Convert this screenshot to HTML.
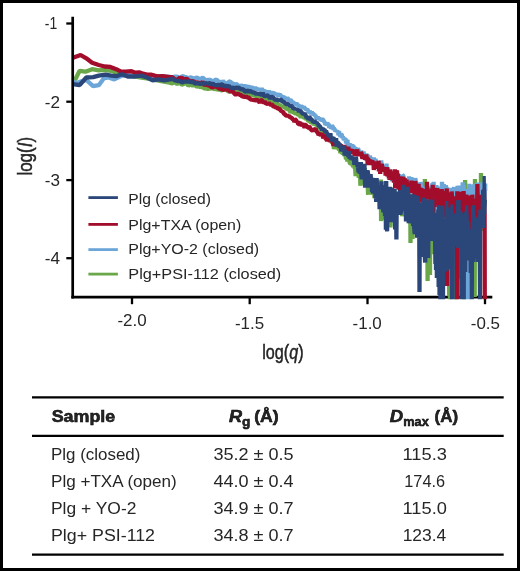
<!DOCTYPE html>
<html lang="en"><head><meta charset="utf-8"><title>SAXS log(I) vs log(q)</title>
<style>html,body{margin:0;padding:0;background:#fff}body{width:520px;height:571px;overflow:hidden}svg{display:block}text{font-family:'Liberation Sans', Arial, Helvetica, sans-serif;fill:#262626}</style>
</head><body>
<svg width="520" height="571" viewBox="0 0 520 571">
<rect x="0" y="0" width="520" height="571" fill="#fff"/>
<g stroke="#000" fill="none">
<path d="M71.35 297.2 H492.3" stroke-width="2.7"/>
<path d="M132.0 297 V304.2" stroke-width="2.3"/>
<path d="M249.7 297 V304.2" stroke-width="2.3"/>
<path d="M367.5 297 V304.2" stroke-width="2.3"/>
<path d="M485.0 297 V304.2" stroke-width="2.3"/>
</g>
<defs><clipPath id="plot"><rect x="60" y="0" width="440" height="299.3"/></clipPath></defs>
<g clip-path="url(#plot)" fill="none" stroke-width="4.3" stroke-linejoin="bevel" stroke-linecap="butt">
<path d="M73.0 81.3 L75.8 78.5 L79.6 70.8 L85.4 71.7 L92.1 69.2 L98.8 70.4 L103.7 69.8 L111.3 70.8 L116.2 72.7 L121.0 73.7 L130.0 75.5 L140.0 77.3 L150.0 79.0 L160.0 81.0 L169.6 82.7 L172.2 83.4 L174.6 82.0 L177.1 84.1 L179.4 82.2 L181.8 84.7 L184.0 83.8 L186.2 82.8 L188.4 85.8 L190.5 84.4 L192.6 85.7 L194.7 84.6 L196.7 86.9 L198.6 85.7 L200.5 87.6 L202.4 85.9 L204.3 88.7 L206.1 88.0 L207.9 89.2 L209.6 88.0 L211.4 88.6 L213.1 87.4 L214.7 89.8 L216.4 88.2 L218.0 90.1 L219.6 89.0 L221.1 90.6 L222.7 90.0 L224.2 89.1 L225.7 89.7 L227.2 90.5 L228.6 91.7 L230.1 91.5 L231.5 91.2 L232.9 91.4 L234.2 89.1 L235.6 90.9 L236.9 89.9 L238.3 93.2 L239.6 93.5 L240.8 91.8 L242.1 93.4 L243.4 92.0 L244.6 92.7 L245.8 93.6 L247.1 94.3 L248.2 94.8 L249.4 94.2 L250.6 95.1 L251.8 95.7 L252.9 94.0 L254.0 95.5 L255.1 95.4 L256.3 96.5 L257.3 95.9 L258.4 94.8 L259.5 98.0 L260.6 96.8 L261.6 98.5 L262.6 97.8 L263.7 97.9 L264.7 98.9 L265.7 99.0 L266.7 99.6 L267.7 100.0 L268.7 99.9 L269.6 99.7 L270.6 100.9 L271.5 101.5 L272.5 101.3 L273.4 103.4 L274.3 104.5 L275.3 102.8 L276.2 101.3 L277.1 103.3 L278.0 104.2 L278.8 105.5 L279.7 104.7 L280.6 105.7 L281.4 105.8 L282.3 107.2 L283.2 106.7 L284.0 106.3 L284.8 105.5 L285.7 107.8 L286.5 109.1 L287.3 109.0 L288.1 109.2 L288.9 110.2 L289.7 109.0 L290.5 113.2 L291.3 110.3 L292.0 112.7 L292.8 112.1 L293.6 111.9 L294.3 112.9 L295.1 113.3 L295.8 113.8 L296.6 112.7 L297.3 114.2 L298.0 114.6 L298.8 114.3 L299.5 115.5 L300.2 116.2 L300.9 117.4 L301.6 116.2 L302.3 116.7 L303.0 116.6 L303.7 117.9 L304.4 117.6 L305.1 117.6 L305.8 116.4 L306.4 120.1 L307.1 118.6 L307.8 120.1 L308.4 121.3 L309.1 120.9 L309.7 121.6 L310.4 121.3 L311.0 123.5 L311.7 122.6 L312.3 123.0 L312.9 122.7 L313.6 125.1 L314.2 123.5 L314.8 123.8 L315.4 124.5 L316.0 124.0 L316.7 125.7 L317.3 127.2 L317.9 126.7 L318.5 128.8 L319.1 127.5 L319.7 127.7 L320.2 129.5 L320.8 129.9 L321.4 131.3 L322.0 132.0 L322.6 131.0 L323.1 130.9 L323.7 132.4 L324.3 134.5 L324.8 131.5 L325.4 134.5 L325.9 134.6 L326.5 136.4 L327.0 134.8 L327.6 135.8 L328.1 136.7 L328.7 137.4 L329.2 137.6 L329.8 136.5 L330.3 139.7 L330.8 140.0 L331.3 137.2 L331.9 143.2 L332.4 142.8 L332.9 139.7 L333.4 142.1 L333.9 149.2 L334.5 145.4 L335.0 145.1 L335.5 144.2 L336.0 146.7 L336.5 144.7 L337.0 145.5 L337.5 149.1 L338.0 147.1 L338.5 148.3 L338.9 149.9 L339.4 149.7 L339.9 147.9 L340.4 153.2 L340.9 150.3 L341.4 152.4 L341.8 152.7 L342.3 152.1 L342.8 150.9 L343.2 154.9 L343.7 153.4 L344.2 153.5 L344.6 156.1 L345.1 152.9 L345.6 156.3 L346.0 159.2 L346.5 158.5 L346.9 156.9 L347.4 161.4 L347.8 156.7 L348.3 161.1 L348.7 160.4 L349.2 159.9 L349.6 162.4 L350.0 163.3 L350.5 163.8 L350.9 163.3 L351.3 163.3 L351.8 164.8 L352.2 160.1 L352.6 164.5 L353.1 167.2 L353.5 160.9 L353.9 164.5 L354.3 166.1 L354.7 168.3 L355.2 168.4 L355.6 176.2 L356.0 170.0 L356.4 169.9 L356.8 167.9 L357.2 174.7 L357.6 165.7 L358.0 175.6 L358.4 171.5 L358.8 177.9 L359.2 169.1 L359.6 174.5 L360.0 169.9 L360.4 185.8 L360.8 175.9 L361.2 176.8 L361.6 171.0 L362.0 171.7 L362.4 176.8 L362.8 184.7 L363.2 172.3 L363.6 181.3 L363.9 176.2 L364.3 174.4 L364.7 168.0 L365.1 182.5 L365.5 186.1 L365.8 181.0 L366.2 183.6 L366.6 183.5 L366.9 175.9 L367.3 183.2 L367.7 185.6 L368.1 194.8 L368.4 181.8 L368.8 187.1 L369.2 183.5 L369.5 194.7 L369.9 184.0 L370.2 187.6 L370.6 179.4 L371.0 188.3 L371.3 183.2 L371.7 187.6 L372.0 180.9 L372.4 186.9 L372.7 193.2 L373.1 192.2 L373.4 189.1 L373.8 194.9 L374.1 190.9 L374.5 198.2 L374.8 196.6 L375.1 193.4 L375.5 189.6 L375.8 180.4 L376.2 191.0 L376.5 196.6 L376.8 193.1 L377.2 182.7 L377.5 189.4 L377.8 185.5 L378.2 191.3 L378.5 195.9 L378.8 180.7 L379.2 193.9 L379.5 181.7 L379.8 195.9 L380.2 205.9 L380.5 186.8 L380.8 179.5 L381.1 221.1 L381.5 187.2 L381.8 198.8 L382.1 192.1 L382.4 219.5 L382.7 216.6 L383.1 191.0 L383.4 195.2 L383.7 206.7 L384.0 200.1 L384.3 203.8 L384.6 187.7 L384.9 201.1 L385.2 205.9 L385.6 199.4 L385.9 202.3 L386.2 188.3 L386.5 189.2 L386.8 201.7 L387.1 192.1 L387.4 220.7 L387.7 204.9 L388.0 196.7 L388.3 215.9 L388.6 217.8 L388.9 195.0 L389.2 201.0 L389.5 203.7 L389.8 208.1 L390.1 203.0 L390.4 227.5 L390.7 207.1 L391.0 205.8 L391.3 198.7 L391.6 196.4 L391.9 222.0 L392.2 208.7 L392.5 198.6 L392.8 211.6 L393.1 208.9 L393.4 195.1 L393.7 197.8 L394.0 203.4 L394.3 206.3 L394.6 212.3 L394.9 200.5 L395.2 208.0 L395.5 206.6 L395.8 206.3 L396.1 193.3 L396.4 212.9 L396.7 191.3 L397.0 210.2 L397.3 204.4 L397.6 205.4 L397.9 199.8 L398.2 200.9 L398.5 197.0 L398.8 208.0 L399.1 196.9 L399.4 203.7 L399.7 212.2 L400.0 201.0 L400.3 200.4 L400.6 196.2 L400.9 207.3 L401.2 211.8 L401.5 198.9 L401.8 200.7 L402.1 216.3 L402.4 210.1 L402.7 201.3 L403.0 210.5 L403.3 204.7 L403.6 213.4 L403.9 209.0 L404.2 194.2 L404.5 210.6 L404.8 204.7 L405.1 200.9 L405.4 210.0 L405.7 212.8 L406.0 197.3 L406.3 208.3 L406.6 211.3 L406.9 205.0 L407.2 209.8 L407.5 188.8 L407.8 199.0 L408.1 214.4 L408.4 210.7 L408.7 195.9 L409.0 212.5 L409.3 221.7 L409.6 212.4 L409.9 195.8 L410.2 192.4 L410.5 243.0 L410.8 208.5 L411.1 198.2 L411.4 211.9 L411.7 212.4 L412.0 222.0 L412.3 209.8 L412.6 238.9 L412.9 212.6 L413.2 197.4 L413.5 215.6 L413.8 191.9 L414.1 209.9 L414.4 211.7 L414.7 221.3 L415.0 202.3 L415.3 189.3 L415.6 224.3 L415.9 226.3 L416.2 212.6 L416.5 201.1 L416.8 205.5 L417.1 210.3 L417.4 215.6 L417.7 198.4 L418.0 204.1 L418.3 221.7 L418.6 200.4 L418.9 209.5 L419.2 206.0 L419.5 223.4 L419.8 205.3 L420.1 201.9 L420.4 203.1 L420.7 206.5 L421.0 207.3 L421.3 204.0 L421.6 200.8 L421.9 202.9 L422.2 210.1 L422.5 211.0 L422.8 234.8 L423.1 206.7 L423.4 214.9 L423.7 229.9 L424.0 219.5 L424.3 203.0 L424.6 212.5 L424.9 179.0 L425.2 218.6 L425.5 207.9 L425.8 211.2 L426.1 206.3 L426.4 203.5 L426.7 196.6 L427.0 238.1 L427.3 233.7 L427.6 281.0 L427.9 209.6 L428.2 210.3 L428.5 203.4 L428.8 200.8 L429.1 205.9 L429.4 214.1 L429.7 212.0 L430.0 274.9 L430.3 213.5 L430.6 216.1 L430.9 225.0 L431.2 250.5 L431.5 209.5 L431.8 224.3 L432.1 243.2 L432.4 209.4 L432.7 236.9 L433.0 214.9 L433.3 212.1 L433.6 254.3 L433.9 204.3 L434.2 210.4 L434.5 238.4 L434.8 213.5 L435.1 212.7 L435.4 232.9 L435.7 227.1 L436.0 210.8 L436.3 215.3 L436.6 202.1 L436.9 217.6 L437.2 248.0 L437.5 224.3 L437.8 210.9 L438.1 209.7 L438.4 225.3 L438.7 207.3 L439.0 276.7 L439.3 234.2 L439.6 222.0 L439.9 205.8 L440.2 223.9 L440.5 232.2 L440.8 237.5 L441.1 210.1 L441.4 228.5 L441.7 213.2 L442.0 233.0 L442.3 209.5 L442.6 217.1 L442.9 222.3 L443.2 210.1 L443.5 226.9 L443.8 213.2 L444.1 216.4 L444.4 226.3 L444.7 237.2 L445.0 211.1 L445.3 204.2 L445.6 232.6 L445.9 218.7 L446.2 199.4 L446.5 217.7 L446.8 209.6 L447.1 234.1 L447.4 226.7 L447.7 257.0 L448.0 200.7 L448.3 199.0 L448.6 256.1 L448.9 220.8 L449.2 296.3 L449.5 243.9 L449.8 229.0 L450.1 310.0 L450.4 221.1 L450.7 215.9 L451.0 215.4 L451.3 223.9 L451.6 250.9 L451.9 233.0 L452.2 247.4 L452.5 222.7 L452.8 230.6 L453.1 226.2 L453.4 215.2 L453.7 225.6 L454.0 230.3 L454.3 213.1 L454.6 224.8 L454.9 234.5 L455.2 229.0 L455.5 220.3 L455.8 222.9 L456.1 320.0 L456.4 223.1 L456.7 221.0 L457.0 250.0 L457.3 202.2 L457.6 201.3 L457.9 237.4 L458.2 232.7 L458.5 227.0 L458.8 201.0 L459.1 237.8 L459.4 216.9 L459.7 278.8 L460.0 207.2 L460.3 216.9 L460.6 216.6 L460.9 229.7 L461.2 210.2 L461.5 227.2 L461.8 220.1 L462.1 261.8 L462.4 219.2 L462.7 230.5 L463.0 233.1 L463.3 213.8 L463.6 230.2 L463.9 229.7 L464.2 320.0 L464.5 220.6 L464.8 217.4 L465.1 180.0 L465.4 216.7 L465.7 213.4 L466.0 228.5 L466.3 210.1 L466.6 215.6 L466.9 211.1 L467.2 232.7 L467.5 229.1 L467.8 212.9 L468.1 210.2 L468.4 209.2 L468.7 217.7 L469.0 235.2 L469.3 244.1 L469.6 201.4 L469.9 222.4 L470.2 239.0 L470.5 202.9 L470.8 247.4 L471.1 218.1 L471.4 240.1 L471.7 227.6 L472.0 213.6 L472.3 207.5 L472.6 241.5 L472.9 197.4 L473.2 275.5 L473.5 237.2 L473.8 217.7 L474.1 219.8 L474.4 219.3 L474.7 297.0 L475.0 179.0 L475.3 231.3 L475.6 205.7 L475.9 217.7 L476.2 227.3 L476.5 226.3 L476.8 224.8 L477.1 225.3 L477.4 224.2 L477.7 220.5 L478.0 231.8 L478.3 198.0 L478.6 210.3 L478.9 216.1 L479.2 210.0 L479.5 211.6 L479.8 209.2 L480.1 206.7 L480.4 228.9 L480.7 206.1 L481.0 173.0 L481.3 225.9 L481.6 230.9 L481.9 209.4 L482.2 201.8 L482.5 201.0 L482.8 199.5 L483.1 226.4 L483.4 198.3 L483.7 201.8 L484.0 183.5 L484.3 206.0 L484.6 186.7 L484.9 184.0 L485.2 190.8" stroke="#69a749"/>
<path d="M73.0 81.3 L75.8 83.3 L81.5 81.3 L86.3 80.0 L93.1 86.2 L98.8 85.2 L103.7 78.5 L108.5 77.5 L114.2 79.4 L120.0 76.5 L125.8 74.6 L131.5 75.6 L140.0 75.2 L150.0 76.0 L160.0 76.2 L170.0 77.0 L172.5 77.3 L175.0 76.7 L177.4 76.6 L179.8 78.7 L182.1 76.1 L184.4 76.8 L186.6 77.4 L188.7 78.3 L190.9 77.3 L192.9 78.6 L195.0 78.1 L197.0 77.6 L198.9 78.6 L200.8 78.8 L202.7 77.7 L204.6 79.2 L206.4 80.5 L208.2 79.8 L209.9 79.8 L211.6 80.6 L213.3 81.9 L215.0 80.1 L216.6 79.5 L218.2 81.7 L219.8 81.7 L221.4 83.2 L222.9 80.8 L224.4 83.0 L225.9 83.2 L227.4 83.7 L228.8 81.8 L230.3 81.4 L231.7 83.5 L233.1 83.3 L234.5 85.3 L235.8 84.1 L237.1 84.4 L238.5 85.9 L239.8 86.7 L241.0 85.0 L242.3 86.5 L243.6 86.1 L244.8 86.1 L246.0 86.5 L247.2 86.6 L248.4 86.9 L249.6 86.8 L250.8 88.1 L251.9 87.2 L253.1 88.1 L254.2 89.1 L255.3 87.6 L256.4 89.0 L257.5 88.9 L258.6 90.1 L259.7 89.0 L260.7 90.2 L261.8 88.7 L262.8 90.4 L263.8 90.9 L264.8 91.1 L265.9 91.6 L266.8 92.1 L267.8 93.2 L268.8 90.6 L269.8 93.7 L270.7 91.8 L271.7 93.8 L272.6 93.2 L273.6 93.1 L274.5 92.7 L275.4 94.9 L276.3 93.6 L277.2 95.2 L278.1 95.3 L279.0 94.8 L279.9 94.2 L280.7 96.0 L281.6 96.3 L282.4 96.7 L283.3 97.1 L284.1 97.4 L285.0 97.8 L285.8 98.5 L286.6 99.3 L287.4 97.9 L288.2 98.9 L289.0 100.4 L289.8 100.8 L290.6 100.3 L291.4 100.6 L292.2 102.4 L292.9 101.6 L293.7 103.7 L294.5 103.5 L295.2 103.6 L296.0 104.2 L296.7 103.9 L297.4 104.2 L298.2 105.7 L298.9 105.7 L299.6 105.5 L300.3 107.2 L301.0 107.0 L301.7 106.6 L302.4 106.9 L303.1 108.7 L303.8 107.1 L304.5 107.8 L305.2 108.7 L305.9 109.1 L306.5 110.5 L307.2 109.2 L307.9 110.4 L308.5 111.8 L309.2 112.5 L309.8 111.6 L310.5 112.3 L311.1 114.1 L311.8 111.7 L312.4 113.4 L313.0 112.8 L313.7 115.3 L314.3 113.7 L314.9 116.1 L315.5 115.0 L316.1 117.7 L316.8 118.2 L317.4 118.5 L318.0 117.5 L318.6 118.1 L319.2 118.0 L319.7 119.3 L320.3 119.3 L320.9 119.8 L321.5 119.8 L322.1 118.3 L322.6 119.4 L323.2 119.9 L323.8 121.4 L324.4 121.7 L324.9 123.0 L325.5 124.9 L326.0 123.3 L326.6 125.0 L327.1 124.4 L327.7 124.0 L328.2 124.0 L328.8 124.9 L329.3 128.0 L329.8 125.1 L330.4 127.0 L330.9 127.8 L331.4 127.5 L332.0 125.9 L332.5 126.3 L333.0 127.1 L333.5 129.9 L334.0 128.5 L334.5 129.1 L335.0 130.3 L335.5 130.9 L336.1 130.4 L336.6 131.9 L337.1 130.9 L337.5 131.8 L338.0 131.9 L338.5 135.3 L339.0 131.2 L339.5 134.3 L340.0 135.5 L340.5 136.4 L341.0 135.6 L341.4 134.6 L341.9 134.9 L342.4 138.1 L342.9 136.7 L343.3 138.1 L343.8 140.1 L344.3 137.8 L344.7 140.3 L345.2 138.5 L345.6 139.4 L346.1 143.2 L346.5 142.6 L347.0 141.8 L347.4 139.8 L347.9 145.1 L348.3 145.7 L348.8 145.6 L349.2 145.7 L349.7 144.2 L350.1 143.6 L350.5 145.4 L351.0 145.8 L351.4 146.5 L351.8 146.7 L352.3 144.1 L352.7 149.3 L353.1 147.4 L353.5 146.3 L354.0 147.2 L354.4 148.9 L354.8 147.1 L355.2 150.1 L355.6 149.7 L356.1 147.5 L356.5 153.8 L356.9 150.5 L357.3 148.2 L357.7 151.9 L358.1 148.9 L358.5 149.4 L358.9 153.0 L359.3 153.0 L359.7 150.4 L360.1 154.3 L360.5 153.9 L360.9 154.4 L361.3 150.4 L361.7 155.2 L362.1 151.8 L362.5 153.2 L362.8 153.6 L363.2 154.7 L363.6 151.6 L364.0 154.2 L364.4 159.0 L364.8 156.3 L365.1 158.8 L365.5 155.2 L365.9 155.9 L366.3 153.4 L366.6 157.2 L367.0 160.8 L367.4 154.5 L367.7 157.3 L368.1 156.4 L368.5 159.1 L368.8 156.3 L369.2 157.2 L369.6 160.9 L369.9 155.7 L370.3 157.6 L370.6 158.8 L371.0 160.9 L371.4 159.1 L371.7 160.3 L372.1 160.2 L372.4 162.0 L372.8 158.2 L373.1 160.1 L373.5 164.3 L373.8 157.3 L374.2 165.5 L374.5 163.5 L374.9 163.5 L375.2 161.1 L375.5 158.6 L375.9 163.0 L376.2 163.6 L376.6 166.5 L376.9 161.2 L377.2 166.3 L377.6 165.1 L377.9 165.1 L378.2 165.2 L378.6 167.0 L378.9 167.6 L379.2 166.1 L379.6 167.9 L379.9 166.1 L380.2 163.4 L380.5 166.4 L380.9 166.5 L381.2 160.4 L381.5 164.0 L381.8 165.7 L382.1 165.4 L382.5 169.0 L382.8 166.1 L383.1 167.5 L383.4 166.8 L383.7 168.3 L384.0 169.3 L384.4 168.7 L384.7 170.5 L385.0 168.4 L385.3 168.2 L385.6 166.3 L385.9 170.9 L386.2 170.3 L386.5 163.6 L386.8 170.4 L387.1 172.7 L387.4 173.3 L387.7 171.8 L388.0 167.7 L388.3 172.0 L388.6 171.8 L388.9 171.9 L389.2 173.7 L389.5 174.1 L389.8 174.7 L390.1 176.8 L390.4 172.2 L390.7 179.8 L391.0 173.9 L391.3 174.0 L391.6 178.0 L391.9 181.3 L392.2 175.2 L392.5 174.9 L392.8 175.2 L393.1 175.1 L393.4 179.2 L393.7 176.8 L394.0 175.6 L394.3 175.5 L394.6 176.9 L394.9 171.7 L395.2 183.6 L395.5 179.5 L395.8 170.1 L396.1 177.8 L396.4 173.7 L396.7 178.7 L397.0 178.3 L397.3 178.6 L397.6 181.1 L397.9 186.2 L398.2 176.4 L398.5 189.9 L398.8 176.5 L399.1 174.2 L399.4 179.4 L399.7 187.6 L400.0 184.0 L400.3 178.6 L400.6 187.6 L400.9 184.6 L401.2 181.5 L401.5 183.3 L401.8 180.2 L402.1 182.5 L402.4 177.6 L402.7 185.2 L403.0 175.2 L403.3 175.3 L403.6 181.0 L403.9 185.1 L404.2 183.4 L404.5 184.2 L404.8 190.1 L405.1 184.8 L405.4 188.1 L405.7 180.2 L406.0 178.3 L406.3 184.9 L406.6 180.6 L406.9 186.5 L407.2 184.1 L407.5 197.3 L407.8 180.7 L408.1 184.6 L408.4 187.2 L408.7 186.7 L409.0 176.3 L409.3 180.2 L409.6 180.0 L409.9 189.9 L410.2 181.8 L410.5 193.4 L410.8 191.6 L411.1 182.8 L411.4 177.1 L411.7 180.6 L412.0 190.2 L412.3 190.8 L412.6 194.3 L412.9 182.0 L413.2 187.2 L413.5 192.1 L413.8 186.3 L414.1 195.4 L414.4 192.5 L414.7 182.2 L415.0 182.7 L415.3 178.2 L415.6 179.8 L415.9 188.0 L416.2 192.3 L416.5 189.0 L416.8 184.1 L417.1 188.7 L417.4 192.3 L417.7 187.4 L418.0 184.3 L418.3 187.6 L418.6 192.2 L418.9 182.3 L419.2 192.4 L419.5 188.4 L419.8 183.6 L420.1 199.0 L420.4 192.5 L420.7 182.1 L421.0 183.5 L421.3 211.2 L421.6 189.3 L421.9 189.8 L422.2 196.8 L422.5 207.5 L422.8 197.1 L423.1 196.1 L423.4 191.0 L423.7 194.6 L424.0 193.4 L424.3 191.8 L424.6 192.6 L424.9 188.9 L425.2 186.9 L425.5 188.3 L425.8 189.2 L426.1 192.0 L426.4 196.9 L426.7 190.9 L427.0 184.0 L427.3 203.1 L427.6 191.1 L427.9 190.5 L428.2 189.8 L428.5 195.1 L428.8 202.8 L429.1 187.8 L429.4 190.9 L429.7 199.7 L430.0 190.2 L430.3 192.8 L430.6 189.1 L430.9 187.4 L431.2 187.4 L431.5 196.8 L431.8 190.8 L432.1 191.4 L432.4 183.0 L432.7 195.2 L433.0 189.3 L433.3 185.9 L433.6 181.8 L433.9 189.7 L434.2 188.9 L434.5 190.6 L434.8 194.7 L435.1 185.2 L435.4 195.2 L435.7 195.3 L436.0 189.2 L436.3 185.2 L436.6 187.3 L436.9 210.8 L437.2 199.2 L437.5 192.8 L437.8 197.1 L438.1 202.5 L438.4 186.6 L438.7 190.9 L439.0 190.1 L439.3 194.2 L439.6 194.8 L439.9 187.3 L440.2 194.0 L440.5 188.7 L440.8 192.5 L441.1 187.3 L441.4 197.6 L441.7 200.8 L442.0 181.8 L442.3 187.9 L442.6 198.3 L442.9 187.0 L443.2 189.1 L443.5 201.9 L443.8 184.0 L444.1 192.8 L444.4 203.5 L444.7 193.2 L445.0 192.1 L445.3 192.0 L445.6 190.9 L445.9 185.0 L446.2 196.5 L446.5 186.8 L446.8 203.2 L447.1 190.9 L447.4 195.3 L447.7 193.0 L448.0 195.9 L448.3 194.5 L448.6 200.6 L448.9 209.8 L449.2 187.8 L449.5 193.2 L449.8 201.9 L450.1 193.0 L450.4 201.7 L450.7 196.5 L451.0 191.8 L451.3 190.1 L451.6 206.8 L451.9 203.5 L452.2 199.0 L452.5 188.1 L452.8 198.2 L453.1 193.8 L453.4 196.6 L453.7 189.4 L454.0 187.0 L454.3 201.4 L454.6 217.3 L454.9 187.6 L455.2 191.7 L455.5 211.2 L455.8 206.9 L456.1 203.6 L456.4 189.8 L456.7 207.7 L457.0 192.1 L457.3 196.9 L457.6 185.9 L457.9 192.0 L458.2 199.5 L458.5 205.6 L458.8 194.9 L459.1 185.5 L459.4 193.8 L459.7 214.9 L460.0 197.8 L460.3 195.2 L460.6 191.9 L460.9 207.4 L461.2 199.1 L461.5 216.7 L461.8 209.8 L462.1 201.2 L462.4 200.4 L462.7 182.4 L463.0 190.7 L463.3 190.5 L463.6 185.1 L463.9 207.4 L464.2 188.9 L464.5 207.0 L464.8 208.3 L465.1 207.5 L465.4 193.7 L465.7 194.0 L466.0 196.0 L466.3 207.7 L466.6 191.3 L466.9 188.7 L467.2 203.3 L467.5 202.2 L467.8 197.8 L468.1 310.0 L468.4 205.6 L468.7 201.8 L469.0 196.9 L469.3 183.8 L469.6 222.1 L469.9 200.5 L470.2 199.0 L470.5 203.7 L470.8 196.5 L471.1 192.2 L471.4 212.7 L471.7 192.7 L472.0 185.4 L472.3 187.1 L472.6 188.8 L472.9 185.6 L473.2 189.9 L473.5 194.8 L473.8 184.2 L474.1 205.6 L474.4 206.5 L474.7 192.9 L475.0 200.9 L475.3 206.7 L475.6 190.1 L475.9 195.1 L476.2 189.7 L476.5 183.3 L476.8 189.2 L477.1 189.0 L477.4 195.5 L477.7 182.5 L478.0 191.4 L478.3 194.5 L478.6 188.4 L478.9 208.0 L479.2 198.7 L479.5 190.1 L479.8 188.0 L480.1 188.4 L480.4 197.0 L480.7 184.3 L481.0 191.8 L481.3 185.2 L481.6 193.0 L481.9 186.4 L482.2 209.5 L482.5 182.2 L482.8 186.7 L483.1 187.5 L483.4 184.0 L483.7 195.4 L484.0 183.2 L484.3 199.3 L484.6 202.5 L484.9 188.9 L485.2 183.3" stroke="#6ca6d8"/>
<path d="M73.0 57.7 L80.6 55.0 L86.3 58.3 L92.1 62.7 L98.8 65.0 L104.6 66.5 L110.4 66.9 L116.2 69.2 L121.0 71.7 L125.8 71.7 L131.5 71.2 L135.4 72.7 L139.2 72.3 L143.0 73.7 L147.0 74.6 L150.8 74.6 L154.6 75.6 L158.5 76.5 L162.3 76.2 L170.0 77.2 L172.5 77.2 L175.0 79.6 L177.4 79.7 L179.8 77.8 L182.1 78.1 L184.4 79.6 L186.6 78.6 L188.7 80.5 L190.9 81.3 L192.9 81.2 L195.0 82.1 L197.0 82.3 L198.9 82.9 L200.8 83.7 L202.7 81.6 L204.6 85.6 L206.4 83.3 L208.2 85.7 L209.9 85.4 L211.6 87.5 L213.3 86.9 L215.0 86.7 L216.6 86.0 L218.2 88.0 L219.8 89.0 L221.4 88.4 L222.9 90.2 L224.4 89.4 L225.9 89.2 L227.4 89.8 L228.8 90.1 L230.3 91.9 L231.7 90.6 L233.1 91.7 L234.5 93.7 L235.8 94.7 L237.1 94.0 L238.5 93.9 L239.8 94.8 L241.0 95.1 L242.3 96.7 L243.6 96.4 L244.8 97.1 L246.0 96.1 L247.2 97.6 L248.4 97.3 L249.6 98.6 L250.8 99.3 L251.9 100.1 L253.1 99.0 L254.2 100.9 L255.3 99.8 L256.4 100.3 L257.5 100.1 L258.6 100.9 L259.7 102.8 L260.7 100.1 L261.8 100.3 L262.8 101.7 L263.8 102.6 L264.8 101.4 L265.9 103.7 L266.8 103.6 L267.8 104.3 L268.8 102.9 L269.8 104.2 L270.7 105.0 L271.7 104.5 L272.6 105.2 L273.6 107.1 L274.5 106.6 L275.4 107.1 L276.3 107.9 L277.2 107.0 L278.1 109.3 L279.0 108.9 L279.9 109.3 L280.7 110.7 L281.6 111.2 L282.4 111.6 L283.3 112.2 L284.1 114.1 L285.0 114.2 L285.8 115.5 L286.6 115.7 L287.4 114.6 L288.2 116.9 L289.0 115.1 L289.8 117.7 L290.6 117.5 L291.4 117.6 L292.2 118.5 L292.9 119.5 L293.7 119.7 L294.5 122.0 L295.2 119.6 L296.0 119.7 L296.7 122.5 L297.4 121.1 L298.2 124.1 L298.9 124.1 L299.6 123.0 L300.3 122.7 L301.0 124.0 L301.7 126.0 L302.4 123.1 L303.1 125.9 L303.8 125.8 L304.5 127.7 L305.2 124.9 L305.9 124.9 L306.5 126.2 L307.2 126.4 L307.9 127.4 L308.5 127.6 L309.2 126.9 L309.8 127.2 L310.5 129.3 L311.1 129.5 L311.8 130.3 L312.4 130.7 L313.0 130.2 L313.7 128.9 L314.3 129.3 L314.9 129.9 L315.5 128.3 L316.1 130.8 L316.8 131.6 L317.4 132.4 L318.0 133.0 L318.6 135.3 L319.2 134.2 L319.7 134.5 L320.3 134.5 L320.9 134.8 L321.5 133.7 L322.1 134.7 L322.6 134.5 L323.2 138.4 L323.8 136.4 L324.4 135.7 L324.9 135.4 L325.5 138.6 L326.0 138.9 L326.6 136.8 L327.1 141.4 L327.7 138.6 L328.2 140.3 L328.8 138.3 L329.3 139.5 L329.8 141.8 L330.4 140.7 L330.9 139.4 L331.4 140.8 L332.0 140.1 L332.5 141.6 L333.0 143.9 L333.5 145.8 L334.0 143.8 L334.5 144.1 L335.0 143.6 L335.5 144.0 L336.1 144.1 L336.6 143.4 L337.1 143.7 L337.5 142.2 L338.0 145.6 L338.5 142.8 L339.0 145.4 L339.5 147.6 L340.0 145.0 L340.5 145.4 L341.0 145.2 L341.4 146.0 L341.9 147.4 L342.4 147.4 L342.9 145.7 L343.3 147.6 L343.8 147.6 L344.3 145.3 L344.7 147.2 L345.2 148.1 L345.6 150.3 L346.1 147.3 L346.5 148.1 L347.0 149.7 L347.4 148.3 L347.9 151.0 L348.3 146.8 L348.8 149.9 L349.2 151.2 L349.7 148.8 L350.1 151.2 L350.5 148.8 L351.0 152.9 L351.4 152.5 L351.8 152.4 L352.3 149.4 L352.7 151.8 L353.1 152.4 L353.5 149.9 L354.0 153.0 L354.4 152.5 L354.8 156.1 L355.2 152.8 L355.6 154.5 L356.1 155.2 L356.5 153.5 L356.9 152.8 L357.3 149.3 L357.7 155.8 L358.1 154.6 L358.5 155.6 L358.9 154.1 L359.3 154.1 L359.7 153.2 L360.1 155.1 L360.5 154.3 L360.9 152.0 L361.3 153.2 L361.7 153.6 L362.1 157.6 L362.5 158.5 L362.8 155.8 L363.2 157.3 L363.6 158.3 L364.0 154.8 L364.4 158.9 L364.8 158.0 L365.1 159.5 L365.5 158.5 L365.9 159.9 L366.3 154.5 L366.6 159.1 L367.0 157.1 L367.4 160.0 L367.7 165.2 L368.1 158.0 L368.5 162.2 L368.8 161.3 L369.2 159.4 L369.6 161.6 L369.9 163.8 L370.3 160.7 L370.6 165.0 L371.0 160.8 L371.4 160.1 L371.7 163.6 L372.1 163.3 L372.4 160.8 L372.8 162.4 L373.1 164.7 L373.5 161.3 L373.8 170.0 L374.2 164.9 L374.5 166.6 L374.9 164.9 L375.2 167.2 L375.5 166.5 L375.9 165.7 L376.2 162.9 L376.6 162.3 L376.9 168.8 L377.2 166.8 L377.6 163.9 L377.9 166.9 L378.2 163.6 L378.6 160.7 L378.9 171.5 L379.2 169.8 L379.6 169.3 L379.9 168.1 L380.2 173.8 L380.5 165.8 L380.9 164.4 L381.2 166.0 L381.5 170.2 L381.8 163.6 L382.1 167.0 L382.5 167.0 L382.8 166.9 L383.1 171.4 L383.4 169.9 L383.7 168.8 L384.0 167.5 L384.4 171.5 L384.7 170.5 L385.0 168.9 L385.3 167.9 L385.6 175.6 L385.9 170.3 L386.2 175.2 L386.5 168.3 L386.8 171.8 L387.1 167.1 L387.4 176.4 L387.7 170.3 L388.0 175.6 L388.3 170.5 L388.6 171.6 L388.9 178.5 L389.2 174.3 L389.5 179.9 L389.8 176.2 L390.1 169.5 L390.4 173.3 L390.7 179.8 L391.0 175.4 L391.3 179.2 L391.6 175.3 L391.9 171.3 L392.2 175.0 L392.5 174.5 L392.8 180.5 L393.1 176.9 L393.4 180.4 L393.7 180.1 L394.0 182.6 L394.3 180.7 L394.6 175.9 L394.9 169.4 L395.2 188.4 L395.5 176.1 L395.8 175.0 L396.1 177.1 L396.4 174.4 L396.7 181.8 L397.0 170.3 L397.3 184.0 L397.6 180.1 L397.9 173.6 L398.2 182.2 L398.5 182.1 L398.8 189.2 L399.1 176.4 L399.4 184.7 L399.7 183.1 L400.0 190.3 L400.3 186.1 L400.6 178.0 L400.9 185.7 L401.2 182.9 L401.5 186.3 L401.8 190.7 L402.1 184.7 L402.4 183.0 L402.7 184.0 L403.0 177.8 L403.3 177.2 L403.6 179.0 L403.9 189.8 L404.2 182.3 L404.5 183.7 L404.8 178.4 L405.1 191.2 L405.4 183.5 L405.7 186.9 L406.0 181.4 L406.3 187.3 L406.6 179.6 L406.9 184.1 L407.2 182.6 L407.5 186.8 L407.8 182.3 L408.1 192.8 L408.4 193.1 L408.7 183.6 L409.0 189.5 L409.3 186.9 L409.6 192.9 L409.9 189.2 L410.2 185.2 L410.5 182.8 L410.8 190.6 L411.1 187.0 L411.4 180.6 L411.7 184.9 L412.0 188.9 L412.3 184.6 L412.6 191.5 L412.9 185.9 L413.2 189.8 L413.5 192.8 L413.8 184.9 L414.1 188.9 L414.4 192.2 L414.7 196.7 L415.0 190.6 L415.3 181.1 L415.6 183.6 L415.9 186.4 L416.2 195.2 L416.5 197.9 L416.8 185.1 L417.1 197.6 L417.4 199.2 L417.7 188.5 L418.0 186.2 L418.3 193.0 L418.6 183.7 L418.9 192.8 L419.2 197.5 L419.5 197.6 L419.8 194.5 L420.1 187.5 L420.4 196.6 L420.7 192.1 L421.0 188.9 L421.3 188.1 L421.6 202.4 L421.9 188.9 L422.2 193.0 L422.5 197.1 L422.8 189.0 L423.1 202.1 L423.4 189.4 L423.7 194.5 L424.0 195.7 L424.3 197.4 L424.6 194.9 L424.9 193.9 L425.2 191.5 L425.5 199.7 L425.8 191.2 L426.1 193.3 L426.4 196.2 L426.7 198.6 L427.0 181.8 L427.3 194.5 L427.6 198.8 L427.9 194.5 L428.2 195.2 L428.5 190.1 L428.8 191.1 L429.1 196.4 L429.4 191.1 L429.7 189.4 L430.0 194.2 L430.3 189.1 L430.6 219.1 L430.9 198.6 L431.2 193.9 L431.5 188.7 L431.8 201.0 L432.1 206.7 L432.4 200.4 L432.7 184.7 L433.0 197.2 L433.3 213.0 L433.6 202.3 L433.9 207.3 L434.2 198.1 L434.5 202.7 L434.8 187.7 L435.1 202.5 L435.4 204.1 L435.7 193.7 L436.0 190.3 L436.3 188.6 L436.6 202.7 L436.9 195.9 L437.2 188.0 L437.5 195.7 L437.8 203.2 L438.1 190.5 L438.4 207.1 L438.7 193.9 L439.0 195.1 L439.3 190.7 L439.6 192.8 L439.9 214.5 L440.2 202.3 L440.5 209.3 L440.8 197.8 L441.1 209.4 L441.4 194.1 L441.7 189.2 L442.0 194.2 L442.3 200.5 L442.6 202.3 L442.9 206.7 L443.2 205.9 L443.5 201.3 L443.8 198.7 L444.1 217.1 L444.4 198.9 L444.7 191.0 L445.0 204.5 L445.3 203.4 L445.6 192.6 L445.9 202.6 L446.2 197.9 L446.5 193.6 L446.8 188.4 L447.1 286.0 L447.4 192.5 L447.7 204.8 L448.0 201.7 L448.3 234.6 L448.6 210.5 L448.9 201.5 L449.2 200.4 L449.5 192.5 L449.8 199.3 L450.1 200.8 L450.4 212.1 L450.7 194.8 L451.0 202.2 L451.3 222.6 L451.6 191.4 L451.9 195.6 L452.2 231.8 L452.5 201.9 L452.8 205.3 L453.1 196.7 L453.4 205.0 L453.7 196.4 L454.0 217.4 L454.3 241.1 L454.6 200.7 L454.9 202.8 L455.2 197.9 L455.5 214.6 L455.8 200.6 L456.1 211.5 L456.4 202.5 L456.7 211.7 L457.0 310.0 L457.3 191.3 L457.6 204.1 L457.9 207.3 L458.2 243.8 L458.5 203.9 L458.8 200.2 L459.1 203.8 L459.4 210.4 L459.7 228.1 L460.0 223.9 L460.3 210.3 L460.6 191.7 L460.9 208.8 L461.2 203.7 L461.5 195.1 L461.8 202.8 L462.1 196.0 L462.4 204.4 L462.7 201.4 L463.0 215.0 L463.3 220.4 L463.6 191.1 L463.9 202.1 L464.2 198.9 L464.5 219.3 L464.8 202.3 L465.1 199.1 L465.4 199.2 L465.7 202.1 L466.0 202.0 L466.3 194.6 L466.6 206.1 L466.9 197.5 L467.2 206.8 L467.5 204.1 L467.8 205.0 L468.1 219.2 L468.4 201.4 L468.7 202.4 L469.0 195.7 L469.3 199.1 L469.6 205.9 L469.9 218.6 L470.2 204.1 L470.5 241.7 L470.8 205.2 L471.1 210.4 L471.4 206.4 L471.7 219.3 L472.0 214.3 L472.3 194.7 L472.6 202.6 L472.9 205.8 L473.2 236.4 L473.5 236.4 L473.8 207.4 L474.1 209.4 L474.4 198.8 L474.7 207.0 L475.0 248.0 L475.3 210.2 L475.6 205.8 L475.9 232.0 L476.2 214.8 L476.5 203.2 L476.8 213.9 L477.1 209.7 L477.4 184.1 L477.7 200.5 L478.0 198.5 L478.3 202.9 L478.6 204.1 L478.9 207.5 L479.2 215.8 L479.5 206.5 L479.8 206.9 L480.1 197.9 L480.4 200.5 L480.7 201.5 L481.0 194.9 L481.3 201.2 L481.6 202.6 L481.9 206.2 L482.2 203.1 L482.5 198.1 L482.8 194.9 L483.1 195.9 L483.4 193.1 L483.7 200.0 L484.0 189.2 L484.3 209.6 L484.6 215.0 L484.8 320.0" stroke="#a30d2c"/>
<path d="M73.0 84.2 L79.6 85.2 L86.3 77.5 L93.1 77.1 L98.8 75.6 L105.6 74.6 L111.3 75.6 L116.2 76.2 L121.9 74.2 L127.7 76.5 L135.4 76.5 L141.2 75.6 L147.0 77.5 L152.7 80.4 L158.5 79.4 L164.2 80.4 L170.0 79.4 L172.5 78.8 L175.0 80.5 L177.4 81.0 L179.8 80.9 L182.1 82.5 L184.4 81.3 L186.6 81.6 L188.7 81.5 L190.9 82.1 L192.9 81.7 L195.0 83.7 L197.0 83.0 L198.9 83.6 L200.8 83.9 L202.7 83.3 L204.6 83.3 L206.4 83.2 L208.2 83.7 L209.9 82.9 L211.6 84.6 L213.3 83.8 L215.0 85.1 L216.6 85.2 L218.2 84.8 L219.8 85.4 L221.4 84.3 L222.9 85.0 L224.4 86.7 L225.9 85.5 L227.4 86.4 L228.8 86.1 L230.3 87.1 L231.7 88.0 L233.1 87.6 L234.5 88.3 L235.8 87.6 L237.1 88.1 L238.5 87.3 L239.8 88.7 L241.0 89.4 L242.3 88.9 L243.6 89.8 L244.8 91.4 L246.0 91.7 L247.2 89.7 L248.4 92.2 L249.6 91.1 L250.8 91.2 L251.9 92.0 L253.1 92.5 L254.2 92.5 L255.3 92.9 L256.4 94.3 L257.5 92.6 L258.6 94.9 L259.7 93.4 L260.7 93.8 L261.8 95.8 L262.8 92.7 L263.8 95.8 L264.8 96.0 L265.9 96.1 L266.8 95.1 L267.8 95.6 L268.8 96.4 L269.8 98.6 L270.7 97.5 L271.7 97.0 L272.6 96.9 L273.6 98.0 L274.5 99.3 L275.4 99.9 L276.3 99.4 L277.2 99.8 L278.1 100.5 L279.0 99.4 L279.9 101.1 L280.7 99.7 L281.6 99.9 L282.4 102.0 L283.3 101.8 L284.1 102.1 L285.0 102.9 L285.8 104.1 L286.6 104.0 L287.4 104.0 L288.2 104.3 L289.0 105.0 L289.8 105.9 L290.6 105.9 L291.4 106.0 L292.2 106.6 L292.9 108.1 L293.7 108.2 L294.5 108.5 L295.2 109.6 L296.0 108.5 L296.7 109.8 L297.4 109.0 L298.2 110.4 L298.9 111.7 L299.6 110.3 L300.3 111.3 L301.0 111.6 L301.7 112.5 L302.4 113.5 L303.1 113.6 L303.8 114.2 L304.5 113.1 L305.2 114.7 L305.9 115.8 L306.5 117.8 L307.2 117.2 L307.9 118.4 L308.5 118.9 L309.2 116.2 L309.8 117.6 L310.5 120.5 L311.1 118.9 L311.8 119.8 L312.4 120.7 L313.0 121.8 L313.7 121.7 L314.3 120.0 L314.9 122.0 L315.5 121.7 L316.1 123.0 L316.8 121.9 L317.4 124.3 L318.0 123.5 L318.6 125.6 L319.2 125.8 L319.7 126.1 L320.3 126.8 L320.9 128.1 L321.5 127.8 L322.1 130.5 L322.6 128.3 L323.2 129.3 L323.8 129.8 L324.4 129.4 L324.9 130.4 L325.5 133.1 L326.0 130.5 L326.6 132.6 L327.1 133.4 L327.7 134.1 L328.2 134.7 L328.8 136.6 L329.3 135.9 L329.8 136.6 L330.4 133.3 L330.9 138.1 L331.4 137.7 L332.0 141.1 L332.5 138.1 L333.0 137.8 L333.5 137.2 L334.0 141.8 L334.5 140.7 L335.0 140.0 L335.5 142.5 L336.1 138.0 L336.6 146.6 L337.1 143.8 L337.5 142.3 L338.0 142.1 L338.5 144.3 L339.0 143.5 L339.5 145.0 L340.0 144.0 L340.5 147.2 L341.0 148.4 L341.4 151.6 L341.9 147.2 L342.4 146.4 L342.9 150.3 L343.3 149.6 L343.8 145.8 L344.3 148.7 L344.7 155.4 L345.2 150.8 L345.6 152.2 L346.1 155.8 L346.5 153.9 L347.0 152.7 L347.4 153.4 L347.9 152.4 L348.3 157.1 L348.8 151.4 L349.2 153.3 L349.7 158.9 L350.1 156.6 L350.5 156.8 L351.0 160.0 L351.4 155.5 L351.8 158.0 L352.3 158.4 L352.7 157.5 L353.1 158.8 L353.5 160.1 L354.0 159.5 L354.4 164.8 L354.8 162.4 L355.2 163.1 L355.6 157.0 L356.1 158.3 L356.5 164.7 L356.9 164.7 L357.3 165.4 L357.7 166.5 L358.1 165.8 L358.5 172.3 L358.9 168.2 L359.3 162.0 L359.7 173.8 L360.1 171.9 L360.5 170.3 L360.9 162.2 L361.3 173.6 L361.7 179.4 L362.1 166.3 L362.5 172.9 L362.8 164.5 L363.2 174.7 L363.6 169.6 L364.0 173.3 L364.4 163.8 L364.8 173.9 L365.1 187.7 L365.5 179.1 L365.9 170.3 L366.3 178.4 L366.6 170.2 L367.0 180.4 L367.4 173.1 L367.7 170.4 L368.1 175.9 L368.5 174.0 L368.8 176.9 L369.2 187.6 L369.6 184.1 L369.9 181.2 L370.3 178.8 L370.6 174.2 L371.0 178.9 L371.4 182.9 L371.7 180.6 L372.1 192.2 L372.4 177.9 L372.8 182.2 L373.1 193.6 L373.5 181.3 L373.8 190.5 L374.2 179.2 L374.5 178.3 L374.9 186.7 L375.2 186.2 L375.5 198.1 L375.9 195.1 L376.2 201.9 L376.6 178.1 L376.9 183.2 L377.2 197.5 L377.6 198.2 L377.9 188.5 L378.2 187.0 L378.6 201.6 L378.9 186.7 L379.2 185.9 L379.6 209.1 L379.9 192.1 L380.2 197.4 L380.5 187.5 L380.9 194.7 L381.2 197.3 L381.5 181.2 L381.8 193.9 L382.1 189.9 L382.5 190.7 L382.8 205.0 L383.1 208.0 L383.4 212.3 L383.7 198.6 L384.0 192.5 L384.4 196.9 L384.7 194.5 L385.0 216.0 L385.3 190.5 L385.6 185.2 L385.9 229.8 L386.2 180.9 L386.5 225.6 L386.8 222.4 L387.1 231.4 L387.4 193.0 L387.7 205.0 L388.0 198.0 L388.3 192.1 L388.6 215.3 L388.9 197.0 L389.2 189.3 L389.5 189.5 L389.8 186.7 L390.1 195.8 L390.4 188.3 L390.7 222.3 L391.0 190.9 L391.3 200.0 L391.6 203.9 L391.9 187.6 L392.2 202.6 L392.5 191.3 L392.8 201.8 L393.1 196.0 L393.4 206.5 L393.7 205.4 L394.0 203.4 L394.3 201.8 L394.6 189.0 L394.9 224.0 L395.2 229.4 L395.5 201.5 L395.8 197.7 L396.1 206.8 L396.4 239.4 L396.7 201.7 L397.0 193.8 L397.3 192.0 L397.6 212.5 L397.9 196.0 L398.2 196.1 L398.5 195.8 L398.8 208.3 L399.1 202.3 L399.4 206.3 L399.7 198.1 L400.0 190.1 L400.3 214.9 L400.6 190.6 L400.9 213.2 L401.2 211.2 L401.5 191.3 L401.8 202.2 L402.1 203.8 L402.4 196.9 L402.7 201.3 L403.0 200.6 L403.3 184.9 L403.6 199.3 L403.9 209.0 L404.2 206.4 L404.5 210.7 L404.8 196.0 L405.1 208.8 L405.4 209.2 L405.7 194.9 L406.0 221.4 L406.3 199.0 L406.6 204.0 L406.9 195.2 L407.2 194.4 L407.5 212.0 L407.8 186.7 L408.1 205.5 L408.4 208.5 L408.7 223.3 L409.0 217.5 L409.3 213.8 L409.6 200.1 L409.9 215.3 L410.2 211.3 L410.5 205.9 L410.8 211.2 L411.1 206.8 L411.4 194.4 L411.7 213.4 L412.0 205.7 L412.3 216.9 L412.6 205.5 L412.9 219.2 L413.2 226.0 L413.5 203.4 L413.8 202.1 L414.1 227.0 L414.4 230.1 L414.7 234.0 L415.0 221.4 L415.3 196.3 L415.6 196.2 L415.9 232.3 L416.2 225.6 L416.5 215.6 L416.8 210.1 L417.1 237.8 L417.4 233.7 L417.7 195.9 L418.0 204.9 L418.3 209.0 L418.6 237.4 L418.9 216.3 L419.2 203.7 L419.5 292.0 L419.8 213.1 L420.1 231.1 L420.4 217.7 L420.7 207.4 L421.0 202.8 L421.3 208.0 L421.6 212.3 L421.9 224.7 L422.2 211.3 L422.5 257.0 L422.8 206.4 L423.1 210.3 L423.4 197.7 L423.7 201.9 L424.0 210.6 L424.3 254.0 L424.6 202.5 L424.9 258.7 L425.2 262.5 L425.5 216.3 L425.8 204.0 L426.1 258.0 L426.4 199.3 L426.7 213.2 L427.0 216.6 L427.3 227.8 L427.6 218.3 L427.9 219.6 L428.2 258.0 L428.5 213.1 L428.8 211.1 L429.1 206.1 L429.4 218.9 L429.7 215.6 L430.0 239.1 L430.3 201.0 L430.6 213.4 L430.9 240.0 L431.2 227.6 L431.5 202.2 L431.8 241.0 L432.1 199.6 L432.4 212.7 L432.7 219.4 L433.0 219.3 L433.3 213.3 L433.6 215.3 L433.9 238.0 L434.2 237.0 L434.5 238.0 L434.8 240.0 L435.1 238.0 L435.4 264.0 L435.7 213.1 L436.0 270.0 L436.3 228.8 L436.6 246.0 L436.9 278.0" stroke="#2b477a"/>
<path d="M436.9 278.0 L437.2 254.8 L437.5 230.4 L437.8 209.4 L438.1 287.0 L438.4 211.0 L438.7 205.2 L439.0 295.0 L439.3 208.7 L439.6 225.3 L439.9 304.0 L440.2 210.2 L440.5 209.8 L440.8 230.7 L441.1 310.0 L441.4 205.7 L441.7 216.7 L442.0 229.9 L442.3 310.0 L442.6 205.7 L442.9 208.4 L443.2 219.0 L443.5 310.0 L443.8 218.7 L444.1 266.0 L444.4 272.0 L444.7 220.6 L445.0 272.0 L445.3 256.8 L445.6 255.1 L445.9 238.3 L446.2 270.0 L446.5 230.3 L446.8 201.0 L447.1 271.0 L447.4 219.8 L447.7 237.9 L448.0 233.1 L448.3 269.0 L448.6 214.7 L448.9 266.0 L449.2 207.6 L449.5 245.1 L449.8 229.5 L450.1 236.7 L450.4 268.0 L450.7 225.9 L451.0 235.6 L451.3 260.1 L451.6 310.0 L451.9 204.5 L452.2 320.0 L452.5 310.0 L452.8 222.3 L453.1 310.0 L453.4 232.2 L453.7 241.8 L454.0 231.0 L454.3 243.0 L454.6 241.3 L454.9 222.3 L455.2 213.6 L455.5 238.3 L455.8 236.0 L456.1 246.0 L456.4 242.0 L456.7 218.4 L457.0 220.0 L457.3 208.0 L457.6 200.4 L457.9 248.0 L458.2 226.1 L458.5 248.0 L458.8 217.0 L459.1 200.1 L459.4 247.0 L459.7 243.2 L460.0 235.4 L460.3 244.8 L460.6 210.7 L460.9 310.0 L461.2 246.4 L461.5 250.0 L461.8 212.8 L462.1 310.0 L462.4 270.9 L462.7 320.0 L463.0 217.9 L463.3 310.0 L463.6 231.4 L463.9 215.2 L464.2 310.0 L464.5 226.7 L464.8 227.4 L465.1 248.5 L465.4 211.7 L465.7 272.0 L466.0 224.8 L466.3 216.5 L466.6 205.3 L466.9 213.8 L467.2 214.7 L467.5 260.4 L467.8 224.2 L468.1 240.6 L468.4 229.1 L468.7 222.0 L469.0 249.1 L469.3 257.8 L469.6 235.3 L469.9 232.5 L470.2 273.0 L470.5 272.0 L470.8 231.3 L471.1 229.1 L471.4 320.0 L471.7 254.8 L472.0 243.9 L472.3 310.0 L472.6 206.4 L472.9 220.9 L473.2 215.3 L473.5 205.3 L473.8 252.3 L474.1 262.0 L474.4 216.4 L474.7 232.5 L475.0 258.0 L475.3 225.6 L475.6 217.6 L475.9 241.8 L476.2 251.7 L476.5 257.0 L476.8 256.0 L477.1 250.9 L477.4 258.0 L477.7 262.0 L478.0 223.3 L478.3 230.3 L478.6 229.1 L478.9 215.9 L479.2 250.7 L479.5 310.0 L479.8 209.8 L480.1 230.0 L480.4 306.0 L480.7 227.0 L481.0 223.5 L481.8 226.0 L482.6 190.0 L483.4 228.0 L484.2 176.0 L484.9 214.0 L485.3 200.0" stroke="#2b477a" stroke-width="3.2"/>
</g>
<g stroke="#000" fill="none">
<path d="M72.7 16.8 V298.55" stroke-width="2.7"/>
<path d="M66.3 23.5 H73" stroke-width="2.3"/>
<path d="M66.3 101.7 H73" stroke-width="2.3"/>
<path d="M66.3 180.1 H73" stroke-width="2.3"/>
<path d="M66.3 258.2 H73" stroke-width="2.3"/>
</g>
<text x="44.8" y="28.6" font-size="15.9" text-anchor="start" textLength="12.4" lengthAdjust="spacingAndGlyphs">-1</text>
<text x="44.8" y="107.5" font-size="15.9" text-anchor="start" textLength="15.2" lengthAdjust="spacingAndGlyphs">-2</text>
<text x="44.8" y="185.8" font-size="15.9" text-anchor="start" textLength="15.2" lengthAdjust="spacingAndGlyphs">-3</text>
<text x="44.8" y="263.9" font-size="15.9" text-anchor="start" textLength="15.2" lengthAdjust="spacingAndGlyphs">-4</text>
<text x="117.4" y="325.6" font-size="15.9" text-anchor="start" textLength="29.2" lengthAdjust="spacingAndGlyphs">-2.0</text>
<text x="234.9" y="329.4" font-size="15.9" text-anchor="start" textLength="29.2" lengthAdjust="spacingAndGlyphs">-1.5</text>
<text x="352.6" y="329.4" font-size="15.9" text-anchor="start" textLength="29.2" lengthAdjust="spacingAndGlyphs">-1.0</text>
<text x="470.8" y="329.4" font-size="15.9" text-anchor="start" textLength="29.2" lengthAdjust="spacingAndGlyphs">-0.5</text>
<text transform="translate(262.2 358.8) scale(0.83 1)" font-size="19.5" stroke="#1a1a1a" stroke-width="0.45">log(<tspan font-style="italic">q</tspan>)</text>
<text transform="translate(31.6 175.6) rotate(-90) scale(0.85 1)" font-size="20" stroke="#1a1a1a" stroke-width="0.45">log(<tspan font-style="italic">I</tspan>)</text>
<path d="M88.4 197.6 H117.9" stroke="#2b477a" stroke-width="2.8" fill="none"/>
<text x="128.3" y="203.9" font-size="14.6" text-anchor="start" textLength="82.6" lengthAdjust="spacingAndGlyphs">Plg (closed)</text>
<path d="M88.4 224.4 H117.9" stroke="#a30d2c" stroke-width="2.8" fill="none"/>
<text x="128.3" y="229.8" font-size="14.6" text-anchor="start" textLength="113.0" lengthAdjust="spacingAndGlyphs">Plg+TXA (open)</text>
<path d="M88.4 249.6 H117.9" stroke="#6ca6d8" stroke-width="2.8" fill="none"/>
<text x="128.3" y="254.4" font-size="14.6" text-anchor="start" textLength="130.8" lengthAdjust="spacingAndGlyphs">Plg+YO-2 (closed)</text>
<path d="M88.4 274.1 H117.9" stroke="#69a749" stroke-width="2.8" fill="none"/>
<text x="128.3" y="279.2" font-size="14.6" text-anchor="start" textLength="153.0" lengthAdjust="spacingAndGlyphs">Plg+PSI-112 (closed)</text>
<g stroke="#000" fill="none">
<path d="M32 397.35 H503.7" stroke-width="2.3"/>
<path d="M32 435.9 H503.7" stroke-width="2.2"/>
<path d="M32 554.65 H503.7" stroke-width="2.3"/>
</g>
<text x="51.7" y="421.7" font-size="15.8" text-anchor="start" textLength="63.6" lengthAdjust="spacingAndGlyphs" font-weight="bold" fill="#000" stroke="#000" stroke-width="0.5">Sample</text>
<text x="229" y="422.4" font-size="15.8" font-weight="bold" fill="#000" stroke="#000" stroke-width="0.5"><tspan font-style="italic" textLength="13.1" lengthAdjust="spacingAndGlyphs">R</tspan><tspan font-size="13" dy="3.6" textLength="8.4" lengthAdjust="spacingAndGlyphs">g</tspan><tspan dy="-3.6" dx="3.7" textLength="24.5" lengthAdjust="spacingAndGlyphs">(Å)</tspan></text>
<text x="389.8" y="422.4" font-size="15.8" font-weight="bold" fill="#000" stroke="#000" stroke-width="0.5"><tspan font-style="italic" textLength="13.4" lengthAdjust="spacingAndGlyphs">D</tspan><tspan font-size="13" dy="3.8" textLength="25.6" lengthAdjust="spacingAndGlyphs">max</tspan><tspan dy="-3.8" dx="5.8" textLength="23.5" lengthAdjust="spacingAndGlyphs">(Å)</tspan></text>
<text x="51.0" y="459.5" font-size="15.6" text-anchor="start" textLength="89.4" lengthAdjust="spacingAndGlyphs">Plg (closed)</text>
<text x="213.4" y="460.3" font-size="15.6" text-anchor="start" textLength="80.2" lengthAdjust="spacingAndGlyphs">35.2 ± 0.5</text>
<text x="402.5" y="460.3" font-size="15.6" text-anchor="start" textLength="44.4" lengthAdjust="spacingAndGlyphs">115.3</text>
<text x="51.0" y="486.5" font-size="15.6" text-anchor="start" textLength="125.8" lengthAdjust="spacingAndGlyphs">Plg +TXA (open)</text>
<text x="213.4" y="487.3" font-size="15.6" text-anchor="start" textLength="80.2" lengthAdjust="spacingAndGlyphs">44.0 ± 0.4</text>
<text x="404.3" y="487.3" font-size="15.6" text-anchor="start" textLength="40.8" lengthAdjust="spacingAndGlyphs">174.6</text>
<text x="51.0" y="513.5" font-size="15.6" text-anchor="start" textLength="85.4" lengthAdjust="spacingAndGlyphs">Plg + YO-2</text>
<text x="213.4" y="514.3" font-size="15.6" text-anchor="start" textLength="80.2" lengthAdjust="spacingAndGlyphs">34.9 ± 0.7</text>
<text x="402.5" y="514.3" font-size="15.6" text-anchor="start" textLength="44.4" lengthAdjust="spacingAndGlyphs">115.0</text>
<text x="51.0" y="540.5" font-size="15.6" text-anchor="start" textLength="104.0" lengthAdjust="spacingAndGlyphs">Plg+ PSI-112</text>
<text x="213.4" y="541.3" font-size="15.6" text-anchor="start" textLength="80.2" lengthAdjust="spacingAndGlyphs">34.8 ± 0.7</text>
<text x="402.7" y="541.3" font-size="15.6" text-anchor="start" textLength="43.6" lengthAdjust="spacingAndGlyphs">123.4</text>
<rect x="1.5" y="1.5" width="517" height="568" fill="none" stroke="#000" stroke-width="3"/>
</svg>
</body></html>
